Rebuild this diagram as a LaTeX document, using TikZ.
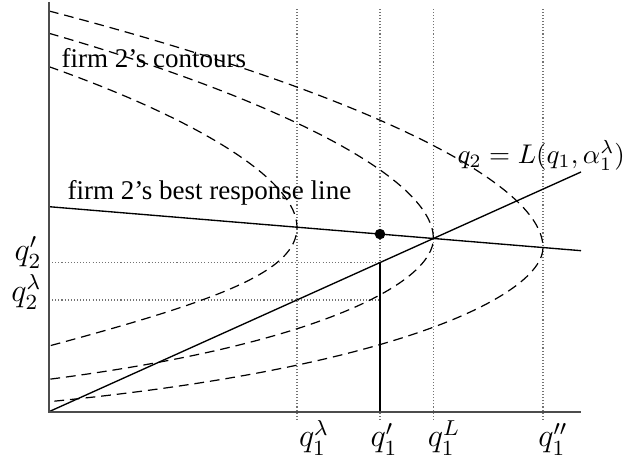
\documentclass[tikz,border=0pt]{standalone}
\usepackage{fontspec}
\setmainfont{Liberation Serif}
\tikzset{
  axisline/.style={draw=black!70, line width=0.6pt},
  contour/.style={line width=0.45pt, dash pattern=on 3.6pt off 2.2pt},
  guideline/.style={draw=black!55, line width=0.45pt, dash pattern=on 0.4pt off 0.75pt},
  solidline/.style={line width=0.5pt},
  thickline/.style={line width=0.9pt},
  dot/.style={circle, fill=black, minimum size=3.9pt, inner sep=0pt},
  ticklabel/.style={inner sep=0pt, anchor=base, font=\large},
  sidelabel/.style={inner sep=0pt, anchor=base east, font=\large},
  note/.style={inner sep=0pt, anchor=base west}
}

\begin{document}
\begin{tikzpicture}[x=0.37pt, y=0.37pt]
\useasboundingbox (-49,-47.3) rectangle (585,411.7);
% axes
\coordinate (o) at (0,0);
\coordinate (ytop) at (0,409.7);
\coordinate (xend) at (532,0);
% guide lines
\coordinate (lam-b) at (248,-8.3);
\coordinate (lam-t) at (248,404.7);
\coordinate (pr-b) at (331,-8.3);
\coordinate (pr-t) at (331,404.7);
\coordinate (cap-b) at (384.4,-8.3);
\coordinate (cap-t) at (384.4,404.7);
\coordinate (dpr-b) at (494,-8.3);
\coordinate (dpr-t) at (494,404.7);
\coordinate (h1-l) at (0,149.1);
\coordinate (h1-r) at (331,149.1);
\coordinate (h2-l) at (0,111.7);
\coordinate (h2-r) at (331,111.7);
\draw[guideline] (lam-b) -- (lam-t);
\draw[guideline] (pr-b) -- (pr-t);
\draw[guideline] (cap-b) -- (cap-t);
\draw[guideline] (dpr-b) -- (dpr-t);
\draw[guideline] (h1-l) -- (h1-r);
\draw[guideline] (h2-l) -- (h2-r);
% contours
\draw[contour] (0,345) .. controls (155,290) and (248,230) .. (248,184.5)
  .. controls (248,140) and (170,111.6) .. (0,65.7);
\draw[contour] (0,378.4) .. controls (240,309) and (384.4,231) .. (384.4,173.2)
  .. controls (384.4,131) and (277,68) .. (0,32.4);
\draw[contour] (0,400.7) .. controls (309,320) and (494,230) .. (494,164.1)
  .. controls (494,120) and (360,45) .. (0,10);
% lines
\coordinate (br0) at (0,205);
\coordinate (br1) at (532,161);
\coordinate (l1) at (532,239.7);
\coordinate (foot) at (331,0);
\draw[solidline] (br0) -- (br1);
\draw[solidline] (o) -- (l1);
\draw[thickline] (foot) -- (h1-r);
\node[dot] (eq) at (331,177.6) {};
\draw[axisline] (ytop) -- (o) -- (xend);
% labels
\node[note] (tc) at (12,343.7) {firm 2's contours};
\node[note] (tb) at (18,211.7) {firm 2's best response line};
\node[note] (tl) at (408,248) {$q_2 = L(q_1,\alpha_1^\lambda)$};
\node[ticklabel] (x1) at (265,-35.3) {$q_1^\lambda$};
\node[ticklabel] (x2) at (335,-35.3) {$q_1'$};
\node[ticklabel] (x3) at (395,-35.3) {$q_1^L$};
\node[ticklabel] (x4) at (504,-35.3) {$q_1''$};
\node[sidelabel] (y1) at (-7,151) {$q_2'$};
\node[sidelabel] (y2) at (-7,110) {$q_2^\lambda$};
\end{tikzpicture}
\end{document}
